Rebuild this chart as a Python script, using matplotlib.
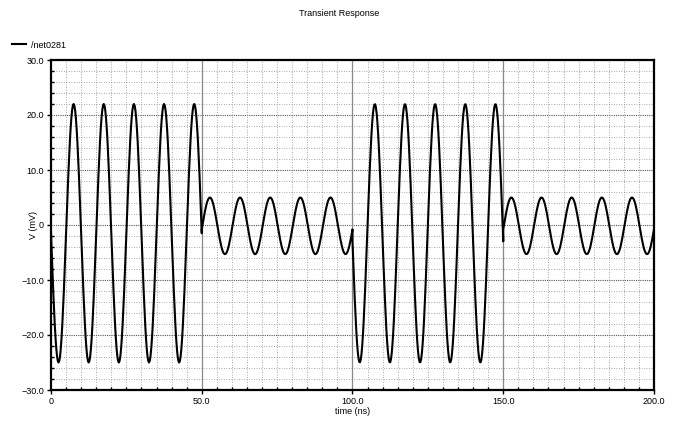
import numpy as np
import matplotlib
matplotlib.use("Agg")
import matplotlib.pyplot as plt
from matplotlib.ticker import MultipleLocator, FixedLocator, FixedFormatter

# valeurs (ns, mV)
seg_start = [0.0, 50.0, 100.0, 150.0]
seg_end = [50.0, 100.0, 150.0, 200.0]
seg_peak = [22.0, 5.0, 22.0, 5.0]
seg_trough = [-25.0, -5.3, -25.0, -5.3]
seg_first_peak = [7.5, 52.7, 107.4, 152.7]
period = 10.0

x_ticks = [0, 50, 100, 150, 200]
x_labels = ["0", "50.0", "100.0", "150.0", "200.0"]
y_ticks = [-30, -20, -10, 0, 10, 20, 30]
y_labels = ["\u221230.0", "\u221220.0", "\u221210.0", "0", "10.0", "20.0", "30.0"]

t_all = []
v_all = []
for a, b, hi, lo, tp in zip(seg_start, seg_end, seg_peak, seg_trough, seg_first_peak):
    t = np.linspace(a, b, 201)
    mid = (hi + lo) / 2
    amp = (hi - lo) / 2
    v = mid + amp * np.cos(2 * np.pi * (t - tp) / period)
    t_all.append(t)
    v_all.append(v)
t_all = np.concatenate(t_all)
v_all = np.concatenate(v_all)

plt.rcParams['font.family'] = ['Liberation Sans', 'DejaVu Sans']
fig = plt.figure(figsize=(6.79, 4.21), dpi=100)
ax = fig.add_axes([51 / 679, 1 - 390 / 421, 603 / 679, 330 / 421])

ax.plot(t_all, v_all, color="black", lw=1.5, label="/net0281", zorder=3)

ax.set_xlim(0, 200)
ax.set_ylim(-30, 30)

ax.xaxis.set_major_locator(FixedLocator(x_ticks))
ax.xaxis.set_major_formatter(FixedFormatter(x_labels))
ax.yaxis.set_major_locator(FixedLocator(y_ticks))
ax.yaxis.set_major_formatter(FixedFormatter(y_labels))
ax.xaxis.set_minor_locator(MultipleLocator(5))
ax.yaxis.set_minor_locator(MultipleLocator(2))

ax.tick_params(which="major", direction="out", length=3, width=1, labelsize=6.5, pad=2)
ax.tick_params(which="minor", direction="in", length=2.5, width=1)

# grille
ax.grid(which="minor", color="#8a8a8a", linestyle=(0, (1, 2)), lw=0.6)
for yv in [-20, -10, 0, 10, 20]:
    ax.axhline(yv, color="#555555", linestyle=(0, (1, 1)), lw=0.8, zorder=1)
for xv in [50, 100, 150]:
    ax.axvline(xv, color="#888888", lw=0.9, zorder=1)

for s in ax.spines.values():
    s.set_linewidth(1.6)

ax.set_xlabel("time (ns)", fontsize=6.5, labelpad=1)
ax.set_ylabel("V (mV)", fontsize=6.5)
ax.yaxis.set_label_coords(-0.021, 0.5)

fig.text(0.5, 1 - 13 / 421, "Transient Response", ha="center", va="center", fontsize=6.5)
fig.legend(loc="center left", bbox_to_anchor=(8 / 679, 1 - 45 / 421), frameon=False,
           fontsize=6.5, handlelength=1.6, handletextpad=0.5, borderaxespad=0)

fig.savefig("out.png", dpi=100)
